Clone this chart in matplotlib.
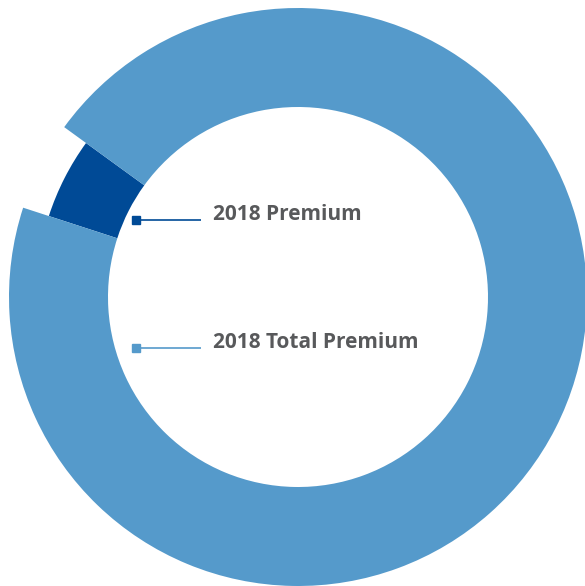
import matplotlib
matplotlib.use('Agg')
from matplotlib import pyplot as plt

# data
labels = ['2018 Premium', '2018 Total Premium']
shares = [5, 95]
colors = ['#004A96', '#559ACB']

W, H = 585, 586
fig = plt.figure(figsize=(W / 100, H / 100), dpi=100)
ax = fig.add_axes([0, 0, 1, 1])

cx, cy = 298, H - 297
r_out, r_in, r_small = 289, 190, 262

wedges, _ = ax.pie(shares, colors=colors, startangle=144, counterclock=True,
                   radius=r_out, center=(cx, cy),
                   wedgeprops=dict(width=r_out - r_in, linewidth=0))
# the small slice is drawn with a shorter outer radius
wedges[0].set_radius(r_small)
wedges[0].set_width(r_small - r_in)

# legend inside the hole
leg_y = [H - 220, H - 348]
for lab, col, y in zip(labels, colors, leg_y):
    ax.plot([137, 201], [y, y], color=col, lw=1.2, solid_capstyle='butt')
    ax.plot([136], [y], marker='s', ms=6, color=col, mec=col)
    ax.text(213, y + 5, lab, fontsize=15, fontweight='bold', color='#58595B',
            family='Open Sans', va='center', ha='left')

ax.set_xlim(0, W)
ax.set_ylim(0, H)
ax.set_aspect('equal')
ax.axis('off')

fig.savefig('out.png', dpi=100)
plt.close(fig)
